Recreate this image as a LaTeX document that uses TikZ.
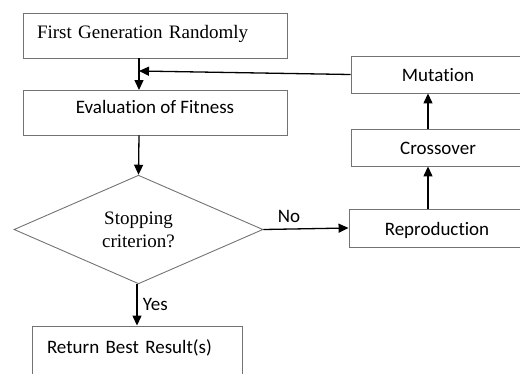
\documentclass[tikz,border=0pt]{standalone}
\usepackage{fontspec}
\setmainfont{Liberation Serif}
\newfontfamily\carlitofont[Ligatures=NoCommon]{Carlito}
\usetikzlibrary{shapes.geometric,arrows.meta}
\begin{document}
\begin{tikzpicture}[x=1pt,y=-1pt,
  box/.style={draw=black!55,line width=0.9pt,rectangle,inner sep=0pt,minimum height=45pt},
  arr/.style={line width=1.3pt,-{Triangle[length=10pt,width=9pt]}},
  sf/.style={font=\carlitofont\fontsize{19}{22}\selectfont},
  rm/.style={font=\fontsize{19}{23}\selectfont}]
\useasboundingbox (0,0) rectangle (520,373);
\clip (0,0) rectangle (520,373);
\node[box,rm,minimum width=264pt,text width=236pt,align=left,text height=8pt,text depth=2.4pt] (first) at (155,35.5) {First Generation Randomly};
\node[box,sf,minimum width=264pt,text height=4pt,text depth=2pt] (eval) at (155,112.5) {Evaluation of Fitness};
\node[draw=black!55,line width=0.9pt,diamond,minimum width=249pt,minimum height=107pt,inner sep=0pt,rm,align=center] (stop) at (138.5,229.5) {Stopping\\[0pt]criterion?};
\node[box,sf,minimum width=176pt,minimum height=38pt,text height=14pt,text depth=0pt] (repro) at (437,228) {Reproduction};
\node[box,sf,minimum width=174pt,minimum height=37pt,text height=13.5pt,text depth=0pt] (cross) at (438,147.5) {Crossover};
\node[box,sf,minimum width=174pt,minimum height=37pt,text height=14.4pt,text depth=0pt] (mut) at (438,74.5) {Mutation};
\node[box,sf,minimum width=210pt,minimum height=54pt,text width=180pt,align=left,text height=6pt,text depth=6pt] (ret) at (137,353) {Return Best Result(s)};
\coordinate (join) at (139,71);
\draw[arr] (139,58) -- (139,90);
\draw[arr] (mut.west) -- (join);
\draw[arr] (eval.south -| 139,0) -- (stop.north);
\draw[arr] (stop.east) -- node[sf,above,pos=0.3,yshift=2pt] {No} (repro.west);
\draw[arr] (stop.south -| 137,0) -- node[sf,right,xshift=2pt] {Yes} (ret.north -| 137,0);
\draw[arr] (repro.north -| 428,0) -- (cross.south -| 428,0);
\draw[arr] (cross.north -| 428,0) -- (mut.south -| 428,0);
\end{tikzpicture}
\end{document}
